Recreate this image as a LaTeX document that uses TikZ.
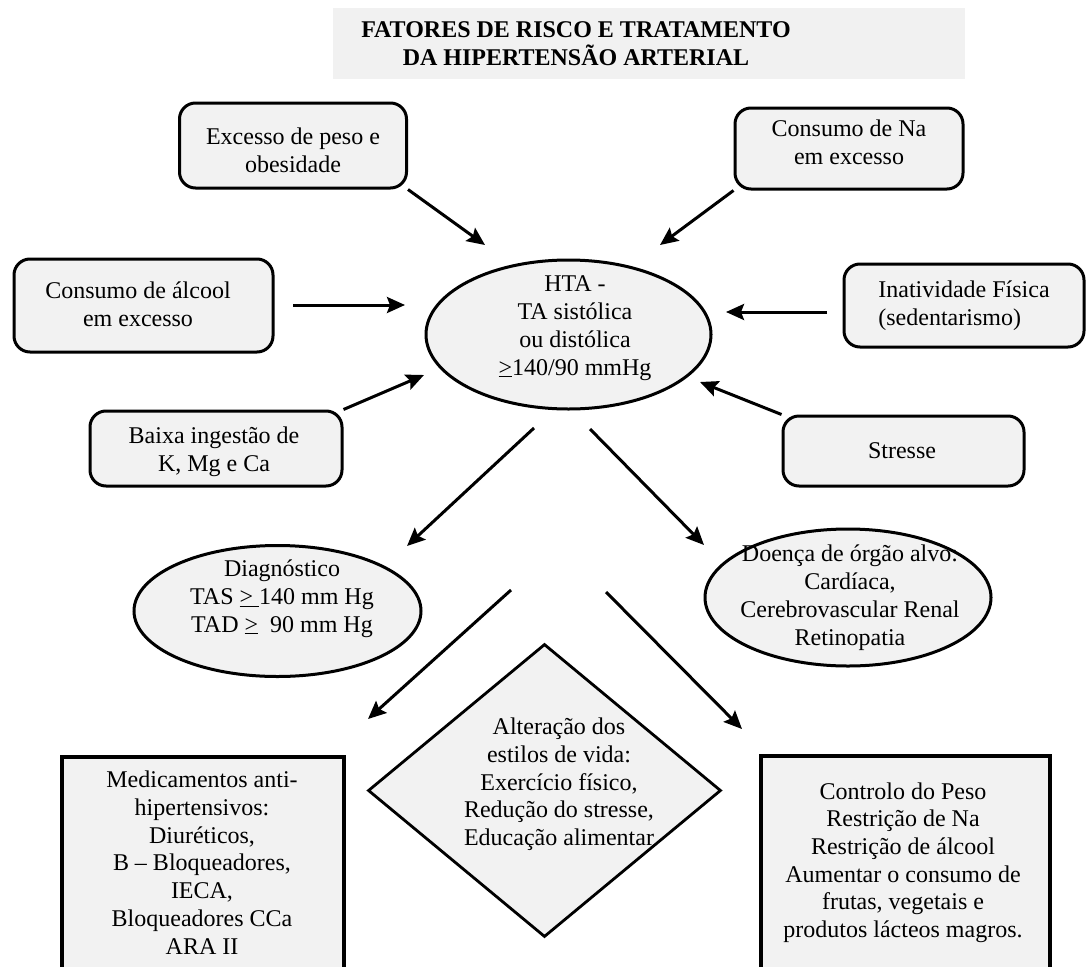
\documentclass[tikz,border=0pt]{standalone}
\usepackage{fontspec}
\setmainfont{Liberation Serif}
\usetikzlibrary{shapes.geometric,arrows.meta}
\definecolor{boxgray}{HTML}{F2F2F2}
\definecolor{bandgray}{HTML}{F1F1F1}
\tikzset{
  % text blocks are placed by the baseline of their last line
  txt/.style={font=\fontsize{24}{27.7}\selectfont, align=center, inner sep=0pt, anchor=base},
  ttl/.style={font=\fontsize{24}{28}\selectfont\bfseries, align=center, inner sep=0pt, anchor=base},
  rbox/.style={draw, line width=3pt, rounded corners=16pt, fill=boxgray, inner sep=0pt},
  ell/.style={draw, ellipse, line width=3pt, fill=boxgray, inner sep=0pt},
  dia/.style={draw, diamond, line width=2.8pt, fill=boxgray, inner sep=0pt},
  sqbox/.style={draw, line width=3.5pt, fill=boxgray, inner sep=0pt, anchor=north west},
  arr/.style={line width=3pt, -{Stealth[length=18pt,width=16pt,inset=3pt]}}
}
\begin{document}
\begin{tikzpicture}[x=1pt,y=-1pt]
\useasboundingbox (0,0) rectangle (1086,966);
\clip (0,0) rectangle (1086,966);

% title band
\node[fill=bandgray, minimum width=632pt, minimum height=71pt, inner sep=0pt, anchor=north west] (band) at (333,8) {};
\node[ttl] (title) at (576,65) {FATORES DE RISCO E TRATAMENTO\\DA HIPERTENSÃO ARTERIAL};

% risk factors
\node[rbox, minimum width=227pt, minimum height=85pt] (exc) at (293,145.5) {};
\node[txt] (exct) at (293,172) {Excesso de peso e\\obesidade};

\node[rbox, minimum width=228pt, minimum height=81pt] (na) at (849,148.5) {};
\node[txt] (nat) at (849,164.5) {Consumo de Na\\em excesso};

\node[rbox, minimum width=259pt, minimum height=93pt] (alc) at (143.5,305.5) {};
\node[txt] (alct) at (138,326) {Consumo de álcool\\em excesso};

\node[rbox, minimum width=252pt, minimum height=75pt] (baixa) at (216,448.5) {};
\node[txt] (baixat) at (214,471) {Baixa ingestão de\\K, Mg e Ca};

\node[rbox, minimum width=240pt, minimum height=83pt] (inat) at (964,305.5) {};
\node[txt, align=left] (inatt) at (964,325) {Inatividade Física\\(sedentarismo)};

\node[rbox, minimum width=241pt, minimum height=70pt] (stress) at (903.5,451) {};
\node[txt] (stresst) at (902,458) {Stresse};

% central ellipse
\node[ell, minimum width=285pt, minimum height=149pt] (hta) at (568.5,334.5) {};
\node[txt] (htat) at (575,375) {HTA -\\TA sistólica\\ou distólica\\\underline{>}140/90 mmHg};

% outcomes
\node[ell, minimum width=287pt, minimum height=131pt] (diag) at (277.5,611) {};
\node[txt] (diagt) at (282,632) {Diagnóstico\\TAS \underline{>\ }140 mm Hg\\TAD \underline{>}\ \ 90 mm Hg};

\node[ell, minimum width=286pt, minimum height=137pt] (orgao) at (848,597.5) {};
\node[txt] (orgaot) at (850,645) {Doença de órgão alvo:\\Cardíaca,\\Cerebrovascular Renal\\Retinopatia};

% treatment
\node[dia, minimum width=353pt, minimum height=293pt] (vida) at (544.5,790.5) {};
\node[txt] (vidat) at (559,845.5) {Alteração dos\\estilos de vida:\\Exercício físico,\\Redução do stresse,\\Educação alimentar};

\node[sqbox, minimum width=282pt, minimum height=260pt] (med) at (60,755) {};
\node[txt] (medt) at (202,954) {Medicamentos anti-\\hipertensivos:\\Diuréticos,\\B -- Bloqueadores,\\IECA,\\Bloqueadores CCa\\ARA II};

\node[sqbox, minimum width=289pt, minimum height=260pt] (ctrl) at (759,754) {};
\node[txt] (ctrlt) at (903,937.5) {Controlo do Peso\\Restrição de Na\\Restrição de álcool\\Aumentar o consumo de\\frutas, vegetais e\\produtos lácteos magros.};

% arrow end points
\coordinate (h1) at (485,245);
\coordinate (h2) at (660,245);
\coordinate (t3) at (293,305);
\coordinate (h3) at (405,305);
\coordinate (h4) at (424,375);
\coordinate (t5) at (827,312);
\coordinate (h5) at (726,312);
\coordinate (h6) at (700,382);
\coordinate (t7) at (534,428);
\coordinate (h7) at (407,546);
\coordinate (t8) at (511,590);
\coordinate (h8) at (368,719);
\coordinate (t9) at (590,429);
\coordinate (h9) at (704,545);
\coordinate (t10) at (606,592);
\coordinate (h10) at (742,729);

% arrows
\draw[arr] (exc.south east) -- (h1);
\draw[arr] (na.south west) -- (h2);
\draw[arr] (t3) -- (h3);
\draw[arr] (baixa.north east) -- (h4);
\draw[arr] (t5) -- (h5);
\draw[arr] (stress.north west) -- (h6);
\draw[arr] (t7) -- (h7);
\draw[arr] (t8) -- (h8);
\draw[arr] (t9) -- (h9);
\draw[arr] (t10) -- (h10);
\end{tikzpicture}
\end{document}
